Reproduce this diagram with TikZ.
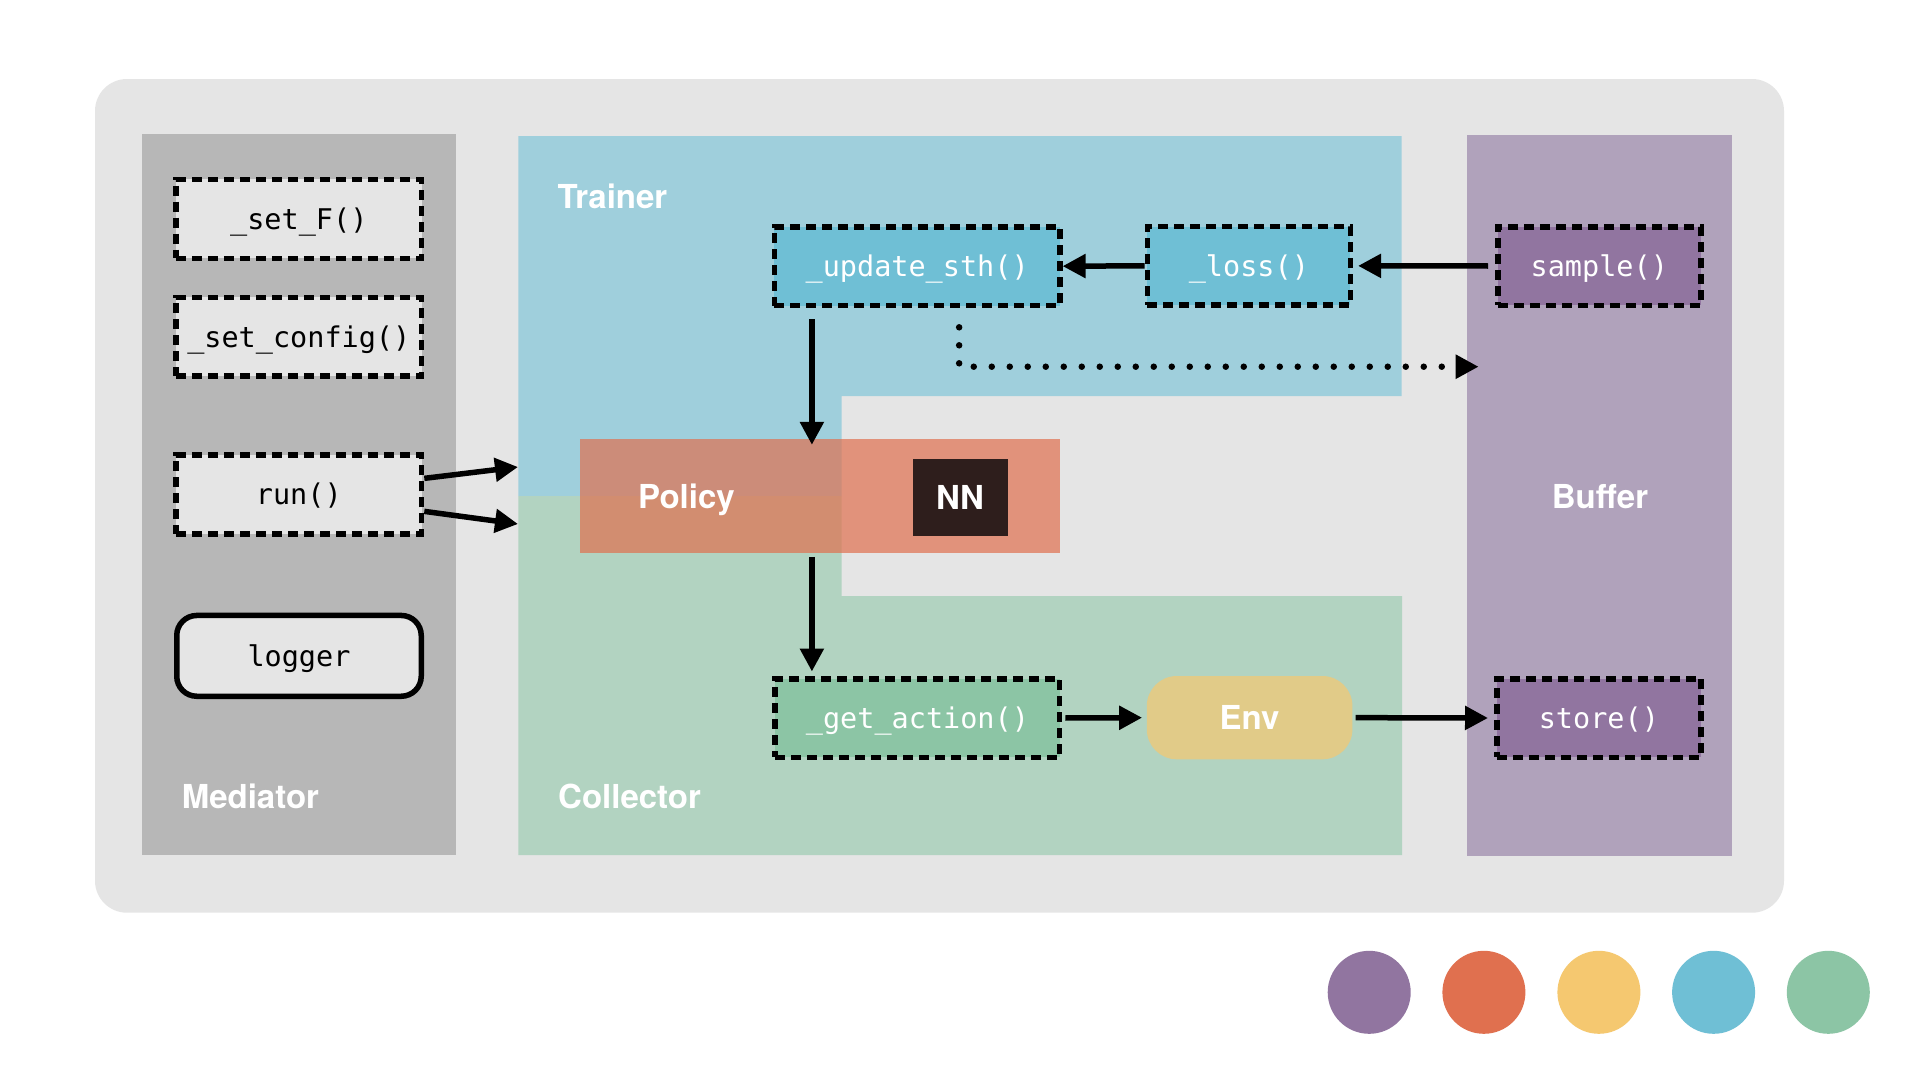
\documentclass[tikz,border=0pt]{standalone}
\usepackage{fontspec}
\setmainfont{TeX Gyre Heros}
\setmonofont{DejaVu Sans Mono}
\usetikzlibrary{arrows.meta,calc}
\definecolor{outerbg}{HTML}{E5E5E5}
\definecolor{medgray}{HTML}{B7B7B7}
\definecolor{trainbg}{HTML}{9FCFDC}
\definecolor{collbg}{HTML}{B2D3C1}
\definecolor{bufbg}{HTML}{B0A2BB}
\definecolor{cpurple}{HTML}{9175A0}
\definecolor{corange}{HTML}{E0704F}
\definecolor{cyellow}{HTML}{F5C870}
\definecolor{cblue}{HTML}{6FBFD5}
\definecolor{cgreen}{HTML}{8CC5A5}
\definecolor{nndark}{HTML}{2E1E1C}
\tikzset{
  panellabel/.style={font=\fontsize{33}{40}\selectfont\bfseries, text=white, inner sep=0pt},
  monotext/.style={font=\fontsize{28.5}{34}\selectfont\ttfamily, text height=25pt, text depth=4pt},
  dashbox/.style={draw=black, line width=5.5pt, dash pattern=on 10pt off 6pt, inner sep=0pt, monotext},
  arr/.style={line width=5.5pt, -{Triangle[length=23pt,width=23pt]}},
  dotarr/.style={line width=6.5pt, line cap=round, dash pattern=on 0pt off 18pt, -{Triangle[length=23pt,width=23pt]}},
}
\begin{document}
\begin{tikzpicture}[x=1pt,y=-1pt]
\useasboundingbox (0,0) rectangle (1920,1080);
\fill[white] (0,0) rectangle (1920,1080);
% outer container
\fill[outerbg, rounded corners=32pt] (95,79) rectangle (1784,912.7);
% panels
\fill[medgray] (141.7,134.3) rectangle (456,855);
\fill[trainbg] (518.3,136) -- (1401.5,136) -- (1401.5,396) -- (841.5,396) -- (841.5,496) -- (518.3,496) -- cycle;
\fill[collbg] (518.3,496) -- (841.5,496) -- (841.5,596) -- (1402,596) -- (1402,855) -- (518.3,855) -- cycle;
\fill[bufbg] (1467,135.3) rectangle (1731.5,856);
% policy
\node[fill=corange, fill opacity=0.7, minimum width=479.5pt, minimum height=113.7pt, inner sep=0pt] (policy) at (820.15,495.85) {};
\node[fill=nndark, minimum width=95pt, minimum height=76.7pt, inner sep=0pt, panellabel] (nn) at (960,497.65) {NN};
\node[panellabel, anchor=base west] (policylbl) at (637.8,508.3) {Policy};
% panel labels
\node[panellabel, anchor=base west] (trainerlbl) at (557.4,208) {Trainer};
\node[panellabel, anchor=base west] (mediatorlbl) at (181.6,808.3) {Mediator};
\node[panellabel, anchor=base west] (collectorlbl) at (558,808.3) {Collector};
\node[panellabel, anchor=base] (bufferlbl) at (1600,508.3) {Buffer};
% mediator boxes
\node[dashbox, fill=outerbg, minimum width=245.5pt, minimum height=78.8pt] (setF) at (298.8,218.85) {\_set\_F()};
\node[dashbox, fill=outerbg, minimum width=245.5pt, minimum height=78.8pt] (setconfig) at (298.8,336.65) {\_set\_config()};
\node[dashbox, fill=outerbg, minimum width=245.5pt, minimum height=78.8pt] (run) at (298.8,494.35) {run()};
\node[draw=black, line width=5.5pt, rounded corners=20pt, fill=outerbg, minimum width=244.5pt, minimum height=80.8pt, inner sep=0pt, monotext] (logger) at (299,655.85) {logger};
% trainer boxes
\node[dashbox, fill=cblue, text=white, minimum width=285.4pt, minimum height=78.8pt] (update) at (917.15,266.15) {\_update\_sth()};
\node[dashbox, fill=cblue, text=white, minimum width=203pt, minimum height=78.5pt] (loss) at (1248.85,265.85) {\_loss()};
\node[dashbox, fill=cpurple, text=white, minimum width=203.1pt, minimum height=78.5pt] (sample) at (1599.3,266) {sample()};
% collector boxes
\node[dashbox, fill=cgreen, text=white, minimum width=284.5pt, minimum height=78.5pt] (getaction) at (917.45,718) {\_get\_action()};
\node[fill=cyellow, fill opacity=0.7, text opacity=1, rounded corners=30pt, minimum width=205.6pt, minimum height=83.3pt, inner sep=0pt, panellabel] (env) at (1249.6,717.65) {Env};
\node[dashbox, fill=cpurple, text=white, minimum width=204.2pt, minimum height=78.5pt] (store) at (1598.85,718) {store()};
% connector ends
\coordinate (tin1) at (518,467);
\coordinate (tin2) at (518,524);
\coordinate (dend) at (1478.6,366.7);
% arrows
\draw[arr] ([yshift=16pt]run.east) -- (tin1);
\draw[arr] ([yshift=-17pt]run.east) -- (tin2);
\draw[arr] (loss.west) -- (update.east);
\draw[arr, shorten <=7pt, shorten >=5pt] (sample.west) -- (loss.east);
\draw[arr, shorten <=11pt] ([xshift=-105.25pt]update.south) -- ([xshift=-8.25pt,yshift=-6pt]policy.north);
\draw[arr, shorten <=4pt, shorten >=4.5pt] ([xshift=-8.25pt]policy.south) -- ([xshift=-105.55pt]getaction.north);
\draw[arr, shorten <=3pt, shorten >=4.5pt] (getaction.east) -- (env.west);
\draw[arr, shorten <=3pt, shorten >=6pt] (env.east) -- (store.west);
\draw[dotarr] ([xshift=42pt,yshift=-19pt]update.south) |- (dend);
% colour swatches
\node[circle, fill=cpurple, minimum size=83pt, inner sep=0pt] (sw1) at (1369.2,992.3) {};
\node[circle, fill=corange, minimum size=83pt, inner sep=0pt] (sw2) at (1483.9,992.3) {};
\node[circle, fill=cyellow, minimum size=83pt, inner sep=0pt] (sw3) at (1598.9,992.3) {};
\node[circle, fill=cblue, minimum size=83pt, inner sep=0pt] (sw4) at (1713.6,992.3) {};
\node[circle, fill=cgreen, minimum size=83pt, inner sep=0pt] (sw5) at (1828.3,992.3) {};
\end{tikzpicture}
\end{document}
